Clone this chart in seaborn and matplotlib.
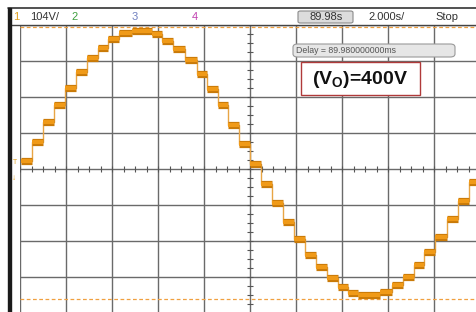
import numpy as np
import pandas as pd
import seaborn as sns
import matplotlib.pyplot as plt
from matplotlib.patches import Rectangle, FancyBboxPatch

# step edges of the staircase (ms) and level of each step (V)
step_start_ms = [0.04, 0.52, 1.00, 1.48, 1.96, 2.43, 2.91, 3.39, 3.83, 4.30,
                 4.87, 5.74, 6.17, 6.65, 7.17, 7.70, 8.13, 8.61, 9.04, 9.52,
                 10.00, 10.48, 10.96, 11.43, 11.91, 12.39, 12.87, 13.35, 13.83, 14.26,
                 14.70, 15.65, 16.17, 16.65, 17.13, 17.57, 18.04, 18.57, 19.04, 19.52]
step_end_ms = step_start_ms[1:] + [20.0]
step_volts = [23, 78, 136, 185, 234, 280, 321, 350, 376, 393,
              399, 390, 370, 347, 315, 274, 231, 185, 127, 72,
              14, -43, -98, -153, -202, -248, -283, -315, -341, -358,
              -364, -355, -335, -312, -277, -240, -196, -144, -92, -38]

volts_per_div = 104
ms_per_div = 2.0
marker_top_v = 410
marker_bot_v = -376

df = pd.DataFrame({"t": step_start_ms + [step_end_ms[-1]],
                   "v": step_volts + [step_volts[-1]]})

sns.set_style("white")
plt.rcParams["font.family"] = ["Liberation Sans", "DejaVu Sans"]

W, H = 476, 312
fig = plt.figure(figsize=(W / 100, H / 100), dpi=100)
# grid area: x 20..480 px, y 25..313 px
ax = fig.add_axes([20 / W, (H - 313) / H, 460 / W, 288 / H])

xmax = 10 * ms_per_div
ymax = 4 * volts_per_div
ax.set_xlim(0, xmax)
ax.set_ylim(-ymax, ymax)

# graticule
for i in range(0, 11):
    ax.axvline(i * ms_per_div, color="#6a6a6a", lw=1.0, zorder=1)
for j in range(-4, 5):
    ax.axhline(j * volts_per_div, color="#6a6a6a", lw=1.0, zorder=1)
xt = np.arange(0, xmax + 0.01, ms_per_div / 4)
yt = np.arange(-ymax, ymax + 0.1, volts_per_div / 4)
ax.plot(xt, np.zeros_like(xt), ls="none", marker="|", ms=5, mew=0.8, color="#555555", zorder=1)
ax.plot(np.full_like(yt, xmax / 2), yt, ls="none", marker="_", ms=5, mew=0.8, color="#555555", zorder=1)

# cursor lines
ax.axhline(marker_top_v, color="#f0a040", lw=0.9, ls=(0, (3, 2)), zorder=2)
ax.axhline(marker_bot_v, color="#f0a040", lw=0.9, ls=(0, (3, 2)), zorder=2)

# waveform
sns.lineplot(data=df, x="t", y="v", drawstyle="steps-post", color="#e8a545",
             lw=1.0, ax=ax, zorder=3)
ax.hlines(step_volts, step_start_ms, step_end_ms, color="#c97a08", lw=5.2, zorder=4)
ax.hlines(step_volts, step_start_ms, step_end_ms, color="#f09a18", lw=3.0, zorder=5)

ax.set_xticks([])
ax.set_yticks([])
ax.set_xlabel("")
ax.set_ylabel("")
for s in ax.spines.values():
    s.set_visible(False)


def fx(x):
    return x / W


def fy(y):
    return 1 - y / H


# screen frame: thick left border, top line, header bar
fig.patches.append(Rectangle((fx(8), 0), 2.5 / W, fy(8), transform=fig.transFigure,
                             color="#1a1a1a", zorder=10))
fig.add_artist(plt.Line2D([fx(8), 1], [fy(8), fy(8)], color="#333333", lw=1.2))
fig.add_artist(plt.Line2D([fx(10), 1], [fy(25), fy(25)], color="#444444", lw=1.0))

fig.text(fx(13), fy(17), "1", color="#e0a020", fontsize=8, va="center")
fig.text(fx(30), fy(17), "104V/", color="#333333", fontsize=8, va="center")
fig.text(fx(71), fy(17), "2", color="#40a040", fontsize=8, va="center")
fig.text(fx(132), fy(17), "3", color="#7080c0", fontsize=8, va="center")
fig.text(fx(192), fy(17), "4", color="#c040b0", fontsize=8, va="center")
fig.patches.append(FancyBboxPatch((fx(298), fy(23)), 55 / W, 12 / H,
                                  boxstyle="round,pad=0,rounding_size=0.005",
                                  transform=fig.transFigure, fc="#dcdcdc", ec="#8a8a8a", lw=0.8))
fig.text(fx(310), fy(17), "89.98s", color="#333333", fontsize=8, va="center")
fig.text(fx(368), fy(17), "2.000s/", color="#333333", fontsize=8, va="center")
fig.text(fx(435), fy(17), "Stop", color="#333333", fontsize=8, va="center")

# delay readout
fig.patches.append(FancyBboxPatch((fx(293), fy(57)), 162 / W, 13 / H,
                                  boxstyle="round,pad=0,rounding_size=0.01",
                                  transform=fig.transFigure, fc="#e6e6e6", ec="#999999", lw=0.8))
fig.text(fx(296), fy(50.5), "Delay = 89.980000000ms", color="#555555", fontsize=6.3, va="center")

# voltage annotation
fig.patches.append(Rectangle((fx(301), fy(95)), 119 / W, 33 / H, transform=fig.transFigure,
                             fc="white", ec="#b03a3a", lw=1.0, zorder=6))
fig.text(fx(360.5), fy(79), r"(V$_\mathregular{O}$)=400V", color="#111111", fontsize=14,
         fontweight="bold", ha="center", va="center", zorder=7)

# trigger markers
fig.text(fx(13), fy(163), "T", color="#e0a020", fontsize=5, va="center")
fig.text(fx(12), fy(178), "\u2193", color="#e0a020", fontsize=6, va="center")

fig.savefig("out.png", dpi=100)
